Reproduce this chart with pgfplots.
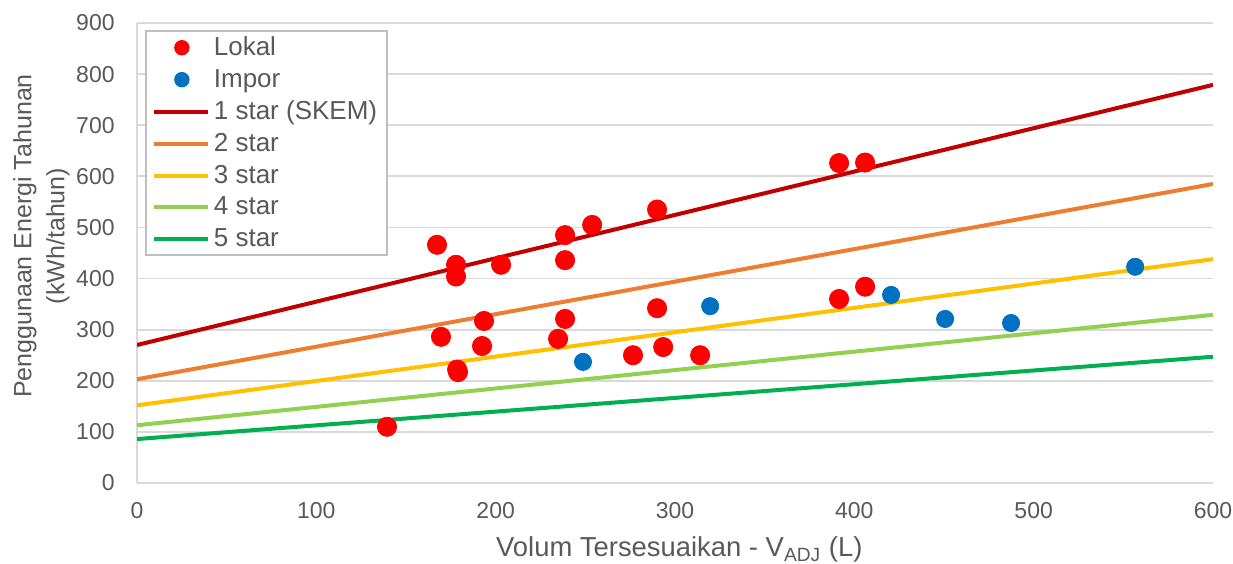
\documentclass[border=0pt]{standalone}
\usepackage{pgfplots}
\pgfplotsset{compat=1.18}
\usepackage{fontspec}
\setmainfont{Liberation Sans}
\definecolor{txt}{HTML}{595959}
\definecolor{gridc}{HTML}{D9D9D9}
\definecolor{legc}{HTML}{BFBFBF}
\definecolor{lokal}{HTML}{FF0000}
\definecolor{impor}{HTML}{0070C0}
\definecolor{sa}{HTML}{C00000}
\definecolor{sb}{HTML}{ED7D31}
\definecolor{sc}{HTML}{FFC000}
\definecolor{sd}{HTML}{92D050}
\definecolor{se}{HTML}{00B050}
\pgfplotsset{
  lineleg/.style={legend image code/.code={\draw[##1] (0pt,0pt) -- (27pt,0pt);}},
  markleg/.style={legend image code/.code={\draw[##1,mark size=3.4pt] plot coordinates {(14pt,0pt)};}},
}
\begin{document}
\begin{tikzpicture}
\begin{axis}[
  scale only axis, width=538pt, height=230pt,
  xmin=0, xmax=600, ymin=0, ymax=900,
  xtick={0,100,...,600}, ytick={0,100,...,900},
  ymajorgrids, grid style={color=gridc, line width=0.9pt},
  axis lines*=left, axis line style={color=gridc, line width=0.9pt},
  major tick length=0pt,
  /pgf/number format/assume math mode=true,
  tick label style={font=\fontsize{11.5}{13}\selectfont, color=txt, inner sep=0pt},
  xticklabel style={anchor=north, yshift=-9.5pt},
  yticklabel style={anchor=east, xshift=-11pt},
  xlabel={Volum Tersesuaikan - V\textsubscript{ADJ} (L)},
  xlabel style={font=\fontsize{13.7}{16}\selectfont, color=txt, inner sep=0pt,
    at={(axis description cs:0.504,-0.145)}, anchor=center},
  ylabel={Penggunaan Energi Tahunan\\(kWh/tahun)},
  ylabel style={font=\fontsize{12.5}{16.5}\selectfont, color=txt, inner sep=0pt,
    at={(axis description cs:-0.0888,0.537)}, anchor=center, align=center},
  legend style={at={(axis description cs:0.0074,0.985)}, anchor=north west,
    draw=legc, line width=0.9pt, font=\fontsize{13}{15}\selectfont, text=txt,
    row sep=1.3pt, inner sep=1pt, inner xsep=3pt},
  legend cell align=left,
]
\addplot[only marks, mark=*, mark size=4.8pt, color=lokal, markleg]
coordinates {
(139.4,110) (167.3,466) (169.5,286) (177.9,427) (177.9,404) (178.5,222) (179,217)
(192.4,268) (193.5,317) (203,427) (234.8,282) (238.7,485) (238.7,436) (238.7,321)
(253.8,505) (276.6,250) (290,535) (290,342) (293.4,266) (314,250)
(391.5,626) (406,627) (391.5,360) (406,384)
};
\addlegendentry{Lokal}
\addplot[only marks, mark=*, mark size=4.3pt, color=impor, markleg]
coordinates {
(248.7,237) (319.6,346) (420.5,368) (450.6,321) (487.4,313) (556.6,423)
};
\addlegendentry{Impor}
\addplot[line width=2pt, color=sa, lineleg] coordinates {(0,270) (600,779)};
\addlegendentry{1 star (SKEM)}
\addplot[line width=2pt, color=sb, lineleg] coordinates {(0,203) (600,585)};
\addlegendentry{2 star}
\addplot[line width=2pt, color=sc, lineleg] coordinates {(0,152) (600,438)};
\addlegendentry{3 star}
\addplot[line width=2pt, color=sd, lineleg] coordinates {(0,113) (600,329)};
\addlegendentry{4 star}
\addplot[line width=2pt, color=se, lineleg] coordinates {(0,86) (600,247)};
\addlegendentry{5 star}
\end{axis}
\path ([shift={(-68.5pt,-40pt)}]current axis.south west) rectangle ([shift={(10pt,11.5pt)}]current axis.north east);
\end{tikzpicture}
\end{document}
